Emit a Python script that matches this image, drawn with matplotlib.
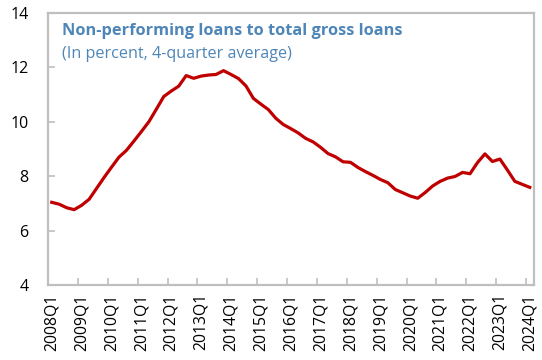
import matplotlib
matplotlib.use("Agg")
import matplotlib.pyplot as plt
from matplotlib.ticker import FixedLocator, NullFormatter

years = list(range(2008, 2025))
quarters = [f"{y}Q{q}" for y in range(2008, 2024) for q in range(1, 5)] + ["2024Q1"]

npl = [7.04, 6.97, 6.84, 6.77, 6.93, 7.15, 7.55, 7.95, 8.33, 8.70,
       8.95, 9.29, 9.64, 10.00, 10.46, 10.93, 11.13, 11.31, 11.70, 11.60,
       11.68, 11.72, 11.74, 11.88, 11.74, 11.59, 11.32, 10.86, 10.65, 10.45,
       10.13, 9.90, 9.75, 9.59, 9.39, 9.26, 9.06, 8.83, 8.71, 8.53,
       8.51, 8.32, 8.17, 8.03, 7.88, 7.76, 7.51, 7.39, 7.27, 7.19,
       7.40, 7.64, 7.81, 7.93, 7.99, 8.14, 8.09, 8.50, 8.82, 8.54,
       8.63, 8.23, 7.81, 7.70, 7.59]

title = "Non-performing loans to total gross loans"
subtitle = "(In percent, 4-quarter average)"
yticks = [4, 6, 8, 10, 12, 14]

plt.rcParams['font.family'] = ['Open Sans', 'DejaVu Sans']

fig = plt.figure(figsize=(5.42, 3.6), dpi=100)
ax = fig.add_axes([48/542, 1-285/360, (533.5-48)/542, (285-13)/360])

x = list(range(len(quarters)))
ax.plot(x, npl, color='#c00000', lw=2.3, solid_joinstyle='round')

ax.set_xlim(-0.5, len(quarters) - 0.5)
ax.set_ylim(4, 14)
ax.set_yticks(yticks)
ax.set_yticklabels([str(v) for v in yticks], fontsize=11.5)

# labels at category centers, tick marks at category boundaries
label_pos = [i for i, q in enumerate(quarters) if q.endswith("Q1")]
ax.set_xticks(label_pos)
ax.set_xticklabels([quarters[i] for i in label_pos], rotation=90, fontsize=11.3)
ax.tick_params(axis='x', which='major', length=0, pad=6)
ax.xaxis.set_minor_locator(FixedLocator([p - 0.5 for p in label_pos[1:]]))
ax.xaxis.set_minor_formatter(NullFormatter())
ax.tick_params(axis='x', which='minor', direction='in', length=5, width=1.2, color='#bfbfbf')
ax.tick_params(axis='y', direction='in', length=5, width=1.2, color='#bfbfbf', pad=14)

for s in ax.spines.values():
    s.set_color('#bfbfbf')
    s.set_linewidth(1.6)

tcol = '#4f86b8'
ax.text(62/542, 1-35/360, title, transform=fig.transFigure, color=tcol,
        fontsize=11.8, fontweight='bold', va='baseline', ha='left')
ax.text(62/542, 1-58/360, subtitle, transform=fig.transFigure, color=tcol,
        fontsize=11.6, va='baseline', ha='left')

fig.savefig("out.png", dpi=100)
